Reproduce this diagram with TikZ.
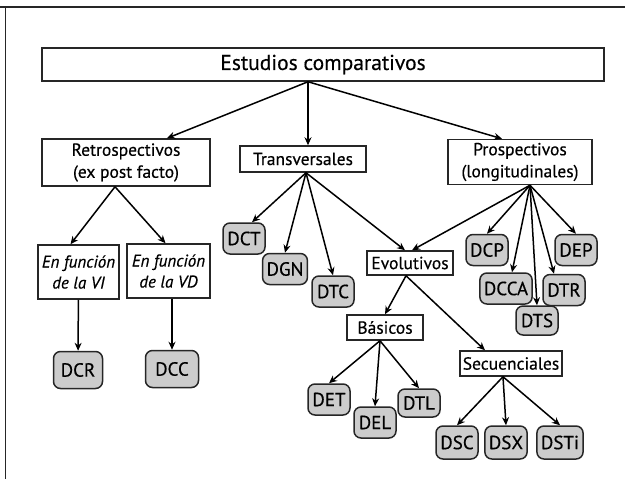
\documentclass[tikz,border=0pt]{standalone}
\usepackage{fontspec}
\setmainfont{PT Sans}[FakeBold=0.4]
\usetikzlibrary{arrows.meta}

\begin{document}
\begin{tikzpicture}[x=1pt, y=-1pt,
	box/.style={draw=black!85, line width=1.5pt, fill=white, inner sep=0pt, align=center, font=\fontsize{17.5}{22}\selectfont},
	pill/.style={draw=black!85, line width=1.5pt, fill=black!20, rounded corners=7pt, inner xsep=4pt, inner ysep=0pt, minimum width=42, minimum height=31, font=\fontsize{19}{20}\selectfont},
	arr/.style={line width=1.5pt, -{Stealth[length=8pt, width=7pt]}}]

	\useasboundingbox (0,0) rectangle (625,479);

	\draw[line width=1.5pt, black!85] (0,7) -- (625,7);
	\draw[line width=1.5pt, black!85] (5.5,7) -- (5.5,479);

	\node[box, minimum width=562, minimum height=33, font=\fontsize{21.5}{22}\selectfont] (top) at (323,64.5) {Estudios comparativos};

	\node[box, minimum width=168, minimum height=47] (retro) at (126,162.5) {Retrospectivos\\(ex post facto)};
	\node[box, minimum width=126, minimum height=26] (trans) at (303,159) {Transversales};
	\node[box, minimum width=144, minimum height=45] (prosp) at (520,162) {Prospectivos\\(longitudinales)};

	\node[box, minimum width=81, minimum height=54, font=\fontsize{17}{21}\selectfont\itshape] (vi) at (78.5,272) {En función\\de la VI};
	\node[box, minimum width=83, minimum height=54, font=\fontsize{17}{21}\selectfont\itshape] (vd) at (168.5,271) {En función\\de la VD};

	\node[box, minimum width=86, minimum height=24] (evol) at (410,263) {Evolutivos};
	\node[box, minimum width=76, minimum height=25] (basic) at (385,327.5) {Básicos};
	\node[box, minimum width=102, minimum height=25] (secu) at (511,363.5) {Secuenciales};

	\node[pill, minimum width=49, minimum height=37] (dcr) at (78,370) {DCR};
	\node[pill, minimum width=53, minimum height=37] (dcc) at (172,369) {DCC};

	\node[pill] (dct) at (244,238.5) {DCT};
	\node[pill] (dgn) at (285,269) {DGN};
	\node[pill] (dtc) at (333,291.5) {DTC};

	\node[pill] (dcp) at (487,250) {DCP};
	\node[pill] (dcca) at (506,288.5) {DCCA};
	\node[pill, minimum height=29] (dts) at (537,320.5) {DTS};
	\node[pill] (dtr) at (564,290) {DTR};
	\node[pill] (dep) at (576,250) {DEP};

	\node[pill] (det) at (329,399.5) {DET};
	\node[pill] (del) at (375,422.5) {DEL};
	\node[pill, minimum height=28] (dtl) at (419,403) {DTL};

	\node[pill, minimum height=33] (dsc) at (457,442.5) {DSC};
	\node[pill, minimum height=33] (dsx) at (506,442.5) {DSX};
	\node[pill, minimum height=33] (dsti) at (560,442.5) {DSTi};

	% departs des fleches
	\coordinate (topout) at ([xshift=-15]top.south);
	\coordinate (retroout) at ([xshift=-11]retro.south);
	\coordinate (transout) at ([xshift=3]trans.south);
	\coordinate (prospout) at ([xshift=10]prosp.south);
	\coordinate (evolout) at ([xshift=-4]evol.south);
	\coordinate (basicout) at ([xshift=-5]basic.south);
	\coordinate (secuout) at ([xshift=-8]secu.south);

	\draw[arr] (topout) -- ([xshift=41]retro.north);
	\draw[arr] (topout) -- ([xshift=5]trans.north);
	\draw[arr] (topout) -- ([xshift=-18]prosp.north);

	\draw[arr] (retroout) -- ([xshift=-8]vi.north);
	\draw[arr] (retroout) -- ([xshift=-3]vd.north);
	\draw[arr] (vi) -- (dcr);
	\draw[arr] (dcc.north |- vd.south) -- (dcc);

	\draw[arr] (transout) -- ([xshift=8]dct.north);
	\foreach \n in {dgn, dtc} {
		\draw[arr] (transout) -- (\n.north);
	}
	\draw[arr] (transout) -- ([xshift=-5]evol.north);

	\foreach \n in {dcp, dts, dep} {
		\draw[arr] (prospout) -- (\n.north);
	}
	\draw[arr] (prospout) -- ([xshift=6]dcca.north);
	\draw[arr] (prospout) -- ([xshift=-10]dtr.north);
	\draw[arr] (prospout) -- ([xshift=2]evol.north);

	\draw[arr] (evolout) -- (basic.north);
	\draw[arr] (evolout) -- ([xshift=-26]secu.north);

	\foreach \n in {det, del, dtl} {
		\draw[arr] (basicout) -- (\n.north);
	}
	\foreach \n in {dsc, dsx, dsti} {
		\draw[arr] (secuout) -- (\n.north);
	}

\end{tikzpicture}
\end{document}
